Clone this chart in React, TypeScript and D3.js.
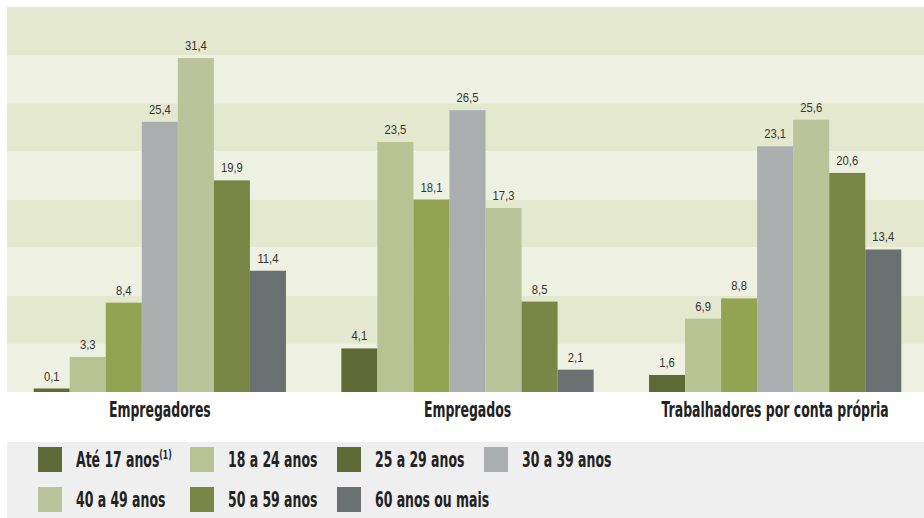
import React from "react";
import * as d3 from "d3";

const categories = ["Empregadores", "Empregados", "Trabalhadores por conta própria"];
const seriesNames = ["Até 17 anos", "18 a 24 anos", "25 a 29 anos", "30 a 39 anos", "40 a 49 anos", "50 a 59 anos", "60 anos ou mais"];
const empregadores = [0.1, 3.3, 8.4, 25.4, 31.4, 19.9, 11.4];
const empregados = [4.1, 23.5, 18.1, 26.5, 17.3, 8.5, 2.1];
const contaPropria = [1.6, 6.9, 8.8, 23.1, 25.6, 20.6, 13.4];
const barColors = ["#5f6a37", "#b8c293", "#94a352", "#abaeae", "#bac39a", "#7a8646", "#6b7171"];
const legendColors = ["#5f6a37", "#b8c293", "#5f6a37", "#abaeae", "#bac39a", "#7a8646", "#6b7171"];
const legendOrder = [0, 1, 2, 3, 4, 5, 6];

const W = 924;
const H = 518;
const plot = { left: 7, top: 7, right: 924, bottom: 392 };
const bandCount = 8;
const yMax = 36.2;

const boldFont = "'DejaVu Sans Condensed', 'DejaVu Sans', sans-serif";
const valueFont = "'Liberation Sans', Arial, sans-serif";
const boldScale = 0.66;

export default function App() {
  const data = [empregadores, empregados, contaPropria];
  const x0 = d3.scaleBand<string>().domain(categories).range([6, 929]).paddingInner(0.18).paddingOuter(0.09);
  const x1 = d3.scaleBand<number>().domain(d3.range(seriesNames.length)).range([0, x0.bandwidth()]);
  const y = d3.scaleLinear().domain([0, yMax]).range([plot.bottom, plot.top]);
  const bandH = (plot.bottom - plot.top) / bandCount;

  const legendCols = [38, 190, 337, 484];
  const legendRows = [447, 487];

  return (
    <svg width={W} height={H} style={{ position: "absolute", left: 0, top: 0, display: "block" }}>
      <rect x={0} y={0} width={W} height={H} fill="#ffffff" />
      {d3.range(bandCount).map((i) => (
        <rect key={"b" + i} x={plot.left} y={plot.top + i * bandH} width={plot.right - plot.left} height={bandH}
          fill={i % 2 === 0 ? "#e4e8cf" : "#eef0e2"} />
      ))}
      {categories.map((c, ci) => (
        <g key={c} transform={`translate(${x0(c)},0)`}>
          {data[ci].map((v, si) => {
            const top = Math.min(y(v), plot.bottom - 3.5);
            const cx = (x1(si) as number) + x1.bandwidth() / 2;
            return (
              <g key={si}>
                <rect x={x1(si)} y={top} width={x1.bandwidth()} height={plot.bottom - top} fill={barColors[si]} />
                <g transform={`translate(${cx},${top - 8}) scale(0.9,1)`}>
                  <text x={0} y={0} textAnchor="middle" fontFamily={valueFont} fontSize={12.5} fill="#333">
                    {d3.format(".1f")(v).replace(".", ",")}
                  </text>
                </g>
              </g>
            );
          })}
          <g transform={`translate(${x0.bandwidth() / 2},417) scale(${boldScale},1)`}>
            <text x={0} y={0} textAnchor="middle" fontFamily={boldFont} fontWeight="bold" fontSize={21} fill="#222">
              {c}
            </text>
          </g>
        </g>
      ))}
      <rect x={7} y={442} width={W - 7} height={H - 442} fill="#efefef" />
      {legendOrder.map((si, k) => {
        const col = k % 4;
        const row = Math.floor(k / 4);
        const lx = legendCols[col];
        const ly = legendRows[row];
        return (
          <g key={"l" + si}>
            <rect x={lx} y={ly} width={24} height={25} fill={legendColors[si]} />
            <g transform={`translate(${lx + 38},${ly + 20}) scale(${boldScale},1)`}>
              <text x={0} y={0} fontFamily={boldFont} fontWeight="bold" fontSize={21} fill="#222">
                {seriesNames[si]}
                {si === 0 ? (
                  <tspan fontSize={13} dy={-8}>(1)</tspan>
                ) : null}
              </text>
            </g>
          </g>
        );
      })}
    </svg>
  );
}
